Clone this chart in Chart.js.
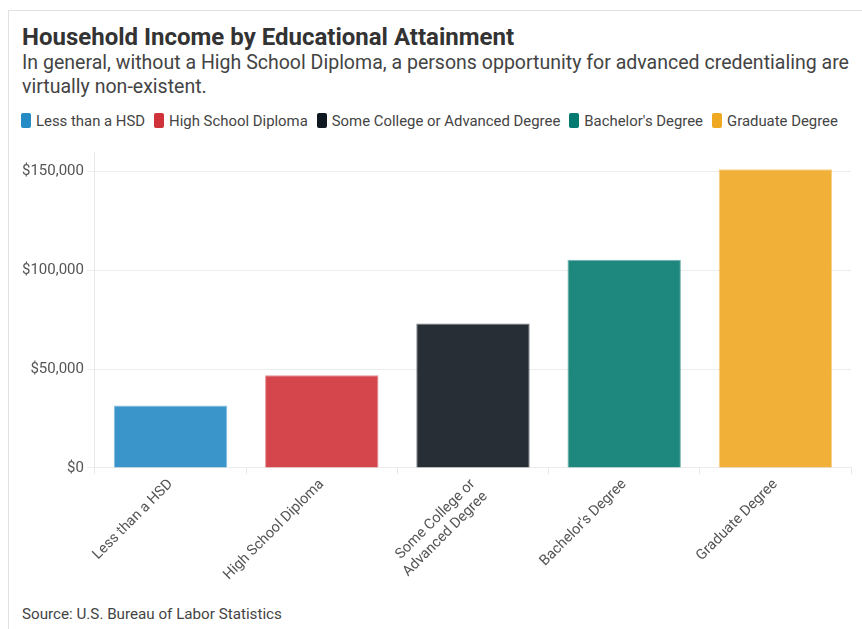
<!DOCTYPE html>
<html>
<head>
<meta charset="utf-8">
<script src="https://cdn.jsdelivr.net/npm/chart.js@4"></script>
<style>
  body { margin: 0; background: #fff; font-family: Roboto, sans-serif; }
  .wrap { position: relative; width: 862px; height: 629px; overflow: hidden; }
  .card { position: absolute; left: 8px; top: 10px; right: -2px; bottom: -2px; border-top: 1px solid #e2e2e2; border-left: 1px solid #e2e2e2; }
  .title { position: absolute; left: 22px; top: 22px; font-size: 24px; font-weight: 700; color: #333; line-height: 30px; }
  .sub { position: absolute; left: 22px; top: 51px; font-size: 19.55px; color: #444; line-height: 24px; width: 838px; }
  .legend { position: absolute; left: 21px; top: 111px; font-size: 14.9px; color: #444; line-height: 20px; white-space: nowrap; }
  .legend span.item { margin-right: 9px; }
  .legend span.box { display: inline-block; width: 10px; height: 15px; border-radius: 2px; vertical-align: -2px; margin-right: 5px; }
  .source { position: absolute; left: 22px; top: 605px; font-size: 15.2px; color: #444; }
  #c { position: absolute; left: 0; top: 140px; }
</style>
</head>
<body>
<div class="wrap">
  <div class="card"></div>
  <div class="title">Household Income by Educational Attainment</div>
  <div class="sub">In general, without a High School Diploma, a persons opportunity for advanced credentialing are virtually non-existent.</div>
  <div class="legend" id="legend"></div>
  <canvas id="c" width="862" height="458"></canvas>
  <div class="source">Source: U.S. Bureau of Labor Statistics</div>
</div>
<script>
const categories = ['Less than a HSD', 'High School Diploma', 'Some College or Advanced Degree', "Bachelor's Degree", 'Graduate Degree'];
const tickLabels = [['Less than a HSD'], ['High School Diploma'], ['Some College or', 'Advanced Degree'], ["Bachelor's Degree"], ['Graduate Degree']];
const income = [31600, 46900, 73200, 105400, 151300];
const yTicks = [0, 50000, 100000, 150000];
const colors = ['#258bc4', '#cf3238', '#0f1720', '#057a70', '#efa822'];

function alpha(hex, a) {
  const n = parseInt(hex.slice(1), 16);
  return `rgba(${n >> 16}, ${(n >> 8) & 255}, ${n & 255}, ${a})`;
}

// legend
const lg = document.getElementById('legend');
categories.forEach((c, i) => {
  lg.innerHTML += `<span class="item"><span class="box" style="background:${colors[i]}"></span>${c}</span>`;
});

Chart.defaults.font.family = 'Roboto, sans-serif';
Chart.defaults.color = '#555';

new Chart(document.getElementById('c'), {
  type: 'bar',
  data: {
    labels: tickLabels,
    datasets: [{
      label: 'Household Income',
      data: income,
      backgroundColor: colors.map(c => alpha(c, 0.9)),
      borderColor: colors.map(c => alpha(c, 0.55)),
      borderWidth: 1,
      barPercentage: 0.75,
      categoryPercentage: 1
    }]
  },
  options: {
    responsive: false,
    animation: false,
    layout: { padding: { left: 19, right: 11, top: 12, bottom: 0 } },
    plugins: { legend: { display: false }, tooltip: { enabled: false } },
    scales: {
      x: {
        grid: { drawOnChartArea: false, drawTicks: true, tickLength: 6, color: '#e8e8e8' },
        border: { color: '#ebebeb' },
        ticks: { minRotation: 45, maxRotation: 45, font: { size: 14.5 }, color: '#555', padding: 2 }
      },
      y: {
        min: 0,
        max: 160000,
        grid: { color: '#ededed', tickLength: 8 },
        border: { display: true, color: '#e8e8e8' },
        afterBuildTicks: axis => { axis.ticks = yTicks.map(v => ({ value: v })); },
        ticks: {
          font: { size: 15 },
          color: '#555',
          padding: 3,
          callback: v => '$' + v.toLocaleString('en-US')
        }
      }
    }
  }
});
</script>
</body>
</html>
